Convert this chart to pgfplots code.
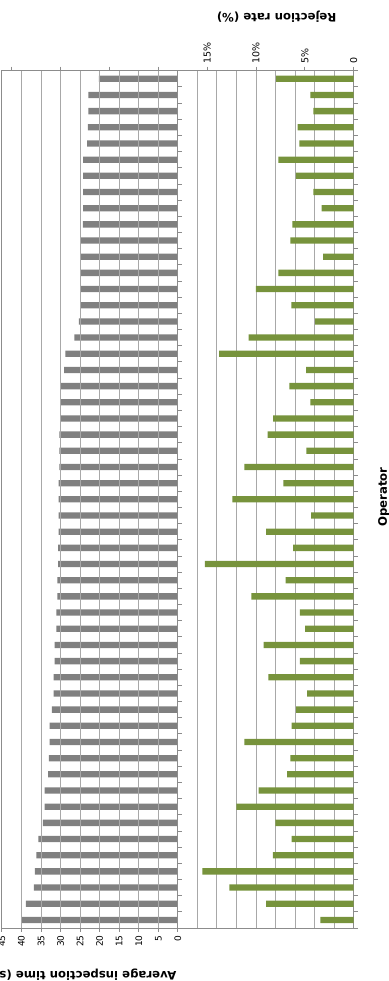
\documentclass[border=0pt]{standalone}
\usepackage{fontspec}
\setmainfont{DejaVu Sans}
\usepackage{pgfplots}
\usepackage{pgfplotstable}
\pgfplotsset{compat=1.18}
\definecolor{barg}{RGB}{128,128,128}
\definecolor{bargreen}{RGB}{119,147,60}
\definecolor{gridc}{RGB}{168,168,168}
\definecolor{axc}{RGB}{140,140,140}

% op = operator rank, pos = vertical slot (53 = top), t = avg inspection time (s), r = rejection rate (%)
\pgfplotstableread{
op pos t r
1 53 20.2 7.94
2 52 22.9 4.43
3 51 22.9 4.13
4 50 23.0 5.73
5 49 23.2 5.56
6 48 24.2 7.71
7 47 24.2 5.93
8 46 24.2 4.13
9 45 24.2 3.27
10 44 24.3 6.27
11 43 24.9 6.48
12 42 24.9 3.14
13 41 24.9 7.71
14 40 24.9 10.02
15 39 24.9 6.38
16 38 25.3 3.95
17 37 26.5 10.74
18 36 28.8 13.77
19 35 29.1 4.88
20 34 29.9 6.58
21 33 29.9 4.43
22 32 29.9 8.25
23 31 30.3 8.80
24 30 30.3 4.84
25 29 30.3 11.18
26 28 30.5 7.19
27 27 30.5 12.41
28 26 30.5 4.36
29 25 30.5 8.97
30 24 30.6 6.21
31 23 30.6 15.24
32 22 30.8 6.96
33 21 30.8 10.47
34 20 31.1 5.52
35 19 31.1 4.98
36 18 31.5 9.21
37 17 31.5 5.52
38 16 31.8 8.73
39 15 31.8 4.77
40 14 32.2 5.90
41 13 32.8 6.34
42 12 32.8 11.18
43 11 33.0 6.48
44 10 33.2 6.82
45 9 34.1 9.72
46 8 34.1 12.00
47 7 34.5 8.01
48 6 35.7 6.34
49 5 36.2 8.28
50 4 36.6 15.48
51 3 36.8 12.72
52 2 38.9 8.97
53 1 39.9 3.41
}\data

\begin{document}
\begin{tikzpicture}
\useasboundingbox (0pt,0pt) rectangle (388pt,981pt);
% time axis (left panel)
\begin{axis}[
  at={(1.9pt,53pt)}, anchor=south west,
  scale only axis, width=176pt, height=857.3pt,
  xmin=0, xmax=45, x dir=reverse,
  ymin=0.5, ymax=53.5,
  axis x line*=bottom, axis y line*=right,
  axis line style={axc, line width=0.9pt},
  xtick={0,5,...,45},
  xmajorgrids, grid style={gridc, line width=0.9pt},
  ytick={0.5,1.5,...,53.5}, yticklabels={},
  tick align=outside, major tick length=4pt,
  tick style={axc, line width=0.8pt},
  axis on top,
  /pgf/number format/assume math mode=true,
  xticklabel style={rotate=90, anchor=east, font=\fontsize{9}{10}\selectfont},
  xbar, bar width=6.3pt,
]
\addplot[fill=barg, draw=none] table[x=t, y=pos]{\data};
\end{axis}
% rejection axis (full width)
\begin{axis}[
  at={(1.9pt,53pt)}, anchor=south west,
  scale only axis, width=351.8pt, height=857.3pt,
  xmin=0, xmax=36, x dir=reverse,
  ymin=0.5, ymax=53.5,
  axis line style={axc, line width=0.9pt},
  xtick={0,5,...,35}, xticklabels={0,5\%,10\%,15\%,,,,},
  xtick pos=right, xticklabel pos=right,
  minor xtick={2,4,...,16}, xminorgrids,
  minor grid style={gridc, line width=0.9pt}, minor tick length=0pt,
  ytick={0.5,1.5,...,53.5}, yticklabels={}, ytick pos=right,
  tick align=outside, major tick length=4pt,
  tick style={axc, line width=0.8pt},
  /pgf/number format/assume math mode=true,
  xticklabel style={rotate=90, anchor=west, font=\fontsize{9.5}{10}\selectfont},
  xbar, bar width=6.3pt,
]
\addplot[fill=bargreen, draw=none] table[x=r, y=pos]{\data};
\end{axis}
\node[rotate=180, anchor=base west, font=\bfseries\fontsize{11.7}{12}\selectfont] at (180pt,9pt) {Average inspection time (s)};
\node[rotate=180, anchor=base west, font=\bfseries\fontsize{11.7}{12}\selectfont] at (340pt,967.7pt) {Rejection rate (\%)};
\node[rotate=90, anchor=base, font=\bfseries\fontsize{11.7}{12}\selectfont] at (386.8pt,484pt) {Operator};
\end{tikzpicture}
\end{document}
